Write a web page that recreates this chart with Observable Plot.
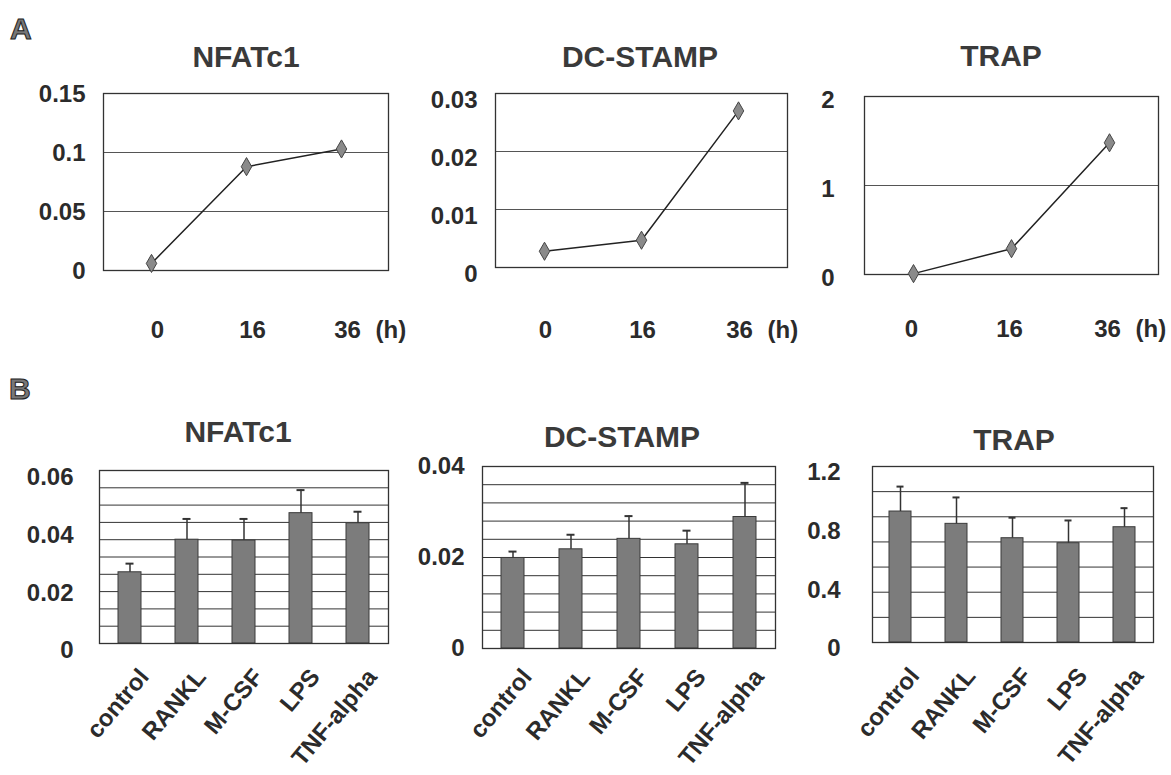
<!DOCTYPE html>
<html>
<head>
<meta charset="utf-8">
<script src="https://cdn.jsdelivr.net/npm/d3@7"></script>
<script src="https://cdn.jsdelivr.net/npm/@observablehq/plot@0.6"></script>
<style>
  html, body { margin: 0; padding: 0; background: #fff; }
  #root { position: relative; width: 1171px; height: 775px; background: #fff; overflow: hidden; }
  .panel { position: absolute; }
  .title { position: absolute; transform: translate(-50%, -50%); font-family: "Liberation Sans", Arial, sans-serif; font-weight: bold; font-size: 30px; color: #3a3a3a; white-space: nowrap; }
  .letter { position: absolute; font-family: "Liberation Sans", Arial, sans-serif; font-weight: bold; font-size: 30px; color: #777; -webkit-text-stroke: 1px #222; }
</style>
</head>
<body>
<div id="root"></div>
<script>
// ---------- Data ----------
const hours = ["0", "16", "36"];
const hoursUnit = "(h)";
const aNFATc1 = [0.006, 0.088, 0.103];
const aDCSTAMP = [0.0028, 0.0047, 0.027];
const aTRAP = [0.01, 0.29, 1.48];

const treatments = ["control", "RANKL", "M-CSF", "LPS", "TNF-alpha"];
const bNFATc1 = [0.0247, 0.036, 0.0357, 0.0452, 0.0417];
const bNFATc1Err = [0.003, 0.0072, 0.0075, 0.008, 0.004];
const bDCSTAMP = [0.0199, 0.0218, 0.0241, 0.0229, 0.0289];
const bDCSTAMPErr = [0.0014, 0.0032, 0.005, 0.003, 0.0075];
const bTRAP = [0.893, 0.809, 0.711, 0.677, 0.786];
const bTRAPErr = [0.17, 0.18, 0.14, 0.155, 0.13];

// axis ticks and gridlines
const aNFATc1Ticks = [0, 0.05, 0.1, 0.15];
const aNFATc1Grid = [0.05, 0.1];
const aDCSTAMPTicks = [0, 0.01, 0.02, 0.03];
const aDCSTAMPGrid = [0.01, 0.02];
const aTRAPTicks = [0, 1, 2];
const aTRAPGrid = [1];
const bNFATc1Ticks = [0, 0.02, 0.04, 0.06];
const bNFATc1Grid = [0.006, 0.012, 0.018, 0.024, 0.03, 0.036, 0.042, 0.048, 0.054];
const bDCSTAMPTicks = [0, 0.02, 0.04];
const bDCSTAMPGrid = [0.004, 0.008, 0.012, 0.016, 0.02, 0.024, 0.028, 0.032, 0.036];
const bTRAPTicks = [0, 0.4, 0.8, 1.2];
const bTRAPGrid = [0.1714, 0.3429, 0.5143, 0.6857, 0.8571, 1.0286];

// ---------- Layout helpers ----------
const root = document.getElementById("root");
const FONT = "'Liberation Sans', Arial, sans-serif";

function place(node, left, top) {
  const wrap = document.createElement("div");
  wrap.className = "panel";
  wrap.style.left = left + "px";
  wrap.style.top = top + "px";
  wrap.appendChild(node);
  root.appendChild(wrap);
}
function addText(cls, text, x, y) {
  const d = document.createElement("div");
  d.className = cls;
  d.textContent = text;
  d.style.left = x + "px";
  d.style.top = y + "px";
  root.appendChild(d);
}
const baseStyle = {
  fontFamily: FONT, fontSize: "24px", fontWeight: "bold",
  color: "#2b2b2b", background: "transparent", overflow: "visible"
};

function linePanel(c) {
  const rows = hours.map((h, i) => ({h, v: c.values[i]}));
  const chart = Plot.plot({
    width: c.width, height: c.height,
    marginLeft: c.mL, marginRight: c.mR, marginTop: c.mT, marginBottom: c.mB,
    style: baseStyle,
    x: {type: "point", domain: hours, padding: 0.5, axis: null},
    y: {domain: c.domain, axis: null},
    marks: [
      Plot.ruleY(c.grid, {stroke: "#555", strokeWidth: 1}),
      Plot.frame({stroke: "#333", strokeWidth: 1.3}),
      Plot.axisY(c.ticks, {tickSize: 0, tickPadding: c.yPad, dy: c.yDy, tickFormat: d => String(d), label: null}),
      Plot.axisX(hours, {tickSize: 0, tickPadding: c.xPad, dx: c.xDx, label: null}),
      Plot.text([hours[2]], {x: d => d, text: () => hoursUnit, frameAnchor: "bottom", textAnchor: "start", lineAnchor: "top", dx: 28 + c.xDx, dy: c.xPad}),
      Plot.line(rows, {x: "h", y: "v", stroke: "#222", strokeWidth: 1.5}),
      Plot.dot(rows, {x: "h", y: "v", symbol: "diamond", r: 5.5, fill: "#8a8a8a", stroke: "#444", strokeWidth: 1})
    ]
  });
  place(chart, c.left, c.top);
}

function barPanel(c) {
  const rows = treatments.map((t, i) => ({t, v: c.values[i], e: c.errs[i]}));
  const chart = Plot.plot({
    width: c.width, height: c.height,
    marginLeft: c.mL, marginRight: c.mR, marginTop: c.mT, marginBottom: c.mB,
    style: baseStyle,
    x: {type: "band", domain: treatments, paddingInner: 0.6, paddingOuter: 0.3, axis: null},
    y: {domain: c.domain, axis: null},
    marks: [
      Plot.ruleY(c.grid, {stroke: "#333", strokeWidth: 1}),
      Plot.barY(rows, {x: "t", y: "v", fill: "#7c7c7c", stroke: "#3a3a3a", strokeWidth: 1}),
      Plot.ruleX(rows, {x: "t", y1: "v", y2: d => d.v + d.e, stroke: "#333", strokeWidth: 1.5}),
      Plot.tickY(rows, {x: "t", y: d => d.v + d.e, insetLeft: 7.5, insetRight: 7.5, stroke: "#333", strokeWidth: 2}),
      Plot.frame({stroke: "#333", strokeWidth: 1.3}),
      Plot.axisY(c.ticks, {tickSize: 0, tickPadding: c.yPad, dy: c.yDy, tickFormat: d => String(d), label: null}),
      Plot.text(treatments, {x: d => d, text: d => d, frameAnchor: "bottom", rotate: -50, textAnchor: "end", lineAnchor: "top", dx: 7, dy: c.labDy, fontSize: 24})
    ]
  });
  place(chart, c.left, c.top);
}

// ---------- Panel A ----------
addText("letter", "A", 10, 12);
addText("title", "NFATc1", 246, 57);
addText("title", "DC-STAMP", 640, 57);
addText("title", "TRAP", 1001, 56);

linePanel({values: aNFATc1, domain: [0, 0.15], ticks: aNFATc1Ticks, grid: aNFATc1Grid,
  left: 0, top: 80, width: 400, height: 270, mL: 103, mR: 12, mT: 13, mB: 80, yPad: 18, yDy: 1, xPad: 50, xDx: 6});
linePanel({values: aDCSTAMP, domain: [0, 0.03], ticks: aDCSTAMPTicks, grid: aDCSTAMPGrid,
  left: 400, top: 80, width: 400, height: 270, mL: 95, mR: 13, mT: 13, mB: 83, yPad: 18, yDy: 7, xPad: 53, xDx: 1});
linePanel({values: aTRAP, domain: [0, 2], ticks: aTRAPTicks, grid: aTRAPGrid,
  left: 800, top: 80, width: 371, height: 270, mL: 64, mR: 13, mT: 16, mB: 76, yPad: 30, yDy: 4, xPad: 45, xDx: -2});

// ---------- Panel B ----------
addText("letter", "B", 9, 372);
addText("title", "NFATc1", 238, 432);
addText("title", "DC-STAMP", 622, 437);
addText("title", "TRAP", 1014, 440);

barPanel({values: bNFATc1, errs: bNFATc1Err, domain: [0, 0.06], ticks: bNFATc1Ticks, grid: bNFATc1Grid,
  left: 0, top: 455, width: 400, height: 320, mL: 99, mR: 12, mT: 15, mB: 132, yPad: 26, yDy: 7, labDy: 23});
barPanel({values: bDCSTAMP, errs: bDCSTAMPErr, domain: [0, 0.04], ticks: bDCSTAMPTicks, grid: bDCSTAMPGrid,
  left: 400, top: 455, width: 400, height: 320, mL: 82, mR: 25, mT: 11, mB: 127, yPad: 18, yDy: 0, labDy: 18});
barPanel({values: bTRAP, errs: bTRAPErr, domain: [0, 1.2], ticks: bTRAPTicks, grid: bTRAPGrid,
  left: 800, top: 455, width: 371, height: 320, mL: 72, mR: 18, mT: 11, mB: 133, yPad: 32, yDy: 6, labDy: 23});
</script>
</body>
</html>
